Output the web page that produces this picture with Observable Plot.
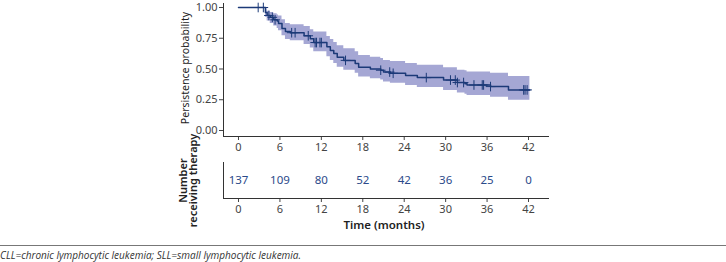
<!DOCTYPE html>
<html>
<head>
<meta charset="utf-8">
<script src="https://cdn.jsdelivr.net/npm/d3@7"></script>
<script src="https://cdn.jsdelivr.net/npm/@observablehq/plot@0.6"></script>
<style>
  html, body { margin: 0; padding: 0; background: #fff; }
  #wrap { position: relative; width: 726px; height: 262px; font-family: "Noto Sans", "Open Sans", sans-serif; }
  #km, #risk { position: absolute; left: 0; }
  #km { top: 0; }
  #risk { top: 150px; }
  #caption { position: absolute; left: 0; top: 245px; width: 726px; border-top: 1px solid #777; font-style: italic; font-size: 10px; line-height: 12px; color: #333; padding-top: 3px; font-family: "Open Sans", sans-serif; }
</style>
</head>
<body>
<div id="wrap">
  <div id="km"></div>
  <div id="risk"></div>
  <div id="caption">CLL=chronic lymphocytic leukemia; SLL=small lymphocytic leukemia.</div>
</div>
<script>
// Kaplan–Meier step data (months)
const eventTimes = [0, 3.9, 4.15, 4.6, 5.1, 5.6, 5.8, 6.3, 6.8, 7.5, 9.5, 10.4, 10.9, 12.8, 13.3, 13.8, 14.3, 15.25, 16.9, 17.4, 19.1, 20.6, 21.0, 22.0, 24.2, 25.9, 29.7, 31.7, 32.8, 33.1, 36.5, 39.1, 42.2];
const survival   = [1, 0.96, 0.935, 0.92, 0.90, 0.89, 0.87, 0.83, 0.805, 0.795, 0.77, 0.745, 0.715, 0.68, 0.65, 0.625, 0.595, 0.57, 0.545, 0.515, 0.50, 0.49, 0.475, 0.465, 0.447, 0.43, 0.41, 0.39, 0.38, 0.37, 0.357, 0.33, 0.33];
const lowerCI    = [1, 0.92, 0.89, 0.87, 0.85, 0.83, 0.81, 0.77, 0.74, 0.73, 0.70, 0.67, 0.64, 0.60, 0.57, 0.545, 0.515, 0.49, 0.465, 0.435, 0.42, 0.41, 0.395, 0.385, 0.365, 0.35, 0.325, 0.305, 0.295, 0.285, 0.27, 0.245, 0.245];
const upperCI    = [1, 0.99, 0.97, 0.96, 0.95, 0.94, 0.93, 0.90, 0.87, 0.86, 0.845, 0.82, 0.80, 0.765, 0.74, 0.715, 0.69, 0.665, 0.64, 0.61, 0.595, 0.585, 0.57, 0.56, 0.545, 0.53, 0.51, 0.49, 0.485, 0.475, 0.465, 0.44, 0.44];
const censorTimes = [2.85, 3.6, 4.4, 4.9, 5.3, 7.7, 8.2, 10.1, 11.1, 11.3, 11.8, 12.0, 15.5, 20.6, 21.9, 22.4, 27.2, 30.7, 31.4, 31.7, 32.6, 34.1, 35.3, 35.5, 36.5, 41.3, 41.5, 41.8];

// Number at risk table
const riskTimes = [0, 6, 12, 18, 24, 30, 36, 42];
const riskCounts = [137, 109, 80, 52, 42, 36, 25, 0];
const yTicks = [0, 0.25, 0.5, 0.75, 1];

const km = eventTimes.map((t, i) => ({t, s: survival[i], lo: lowerCI[i], hi: upperCI[i]}));
const survAt = t => { let s = 1; for (const d of km) if (d.t <= t) s = d.s; return s; };
const censors = censorTimes.map(t => ({t, s: survAt(t)}));
const risk = riskTimes.map((t, i) => ({t, n: riskCounts[i]}));

const lineColor = "#1c3a78";
const bandColor = "#a5a7d4";
const xDomain = [-2.172, 44.896];

const p1 = Plot.plot({
  width: 726, height: 160,
  marginTop: 3, marginBottom: 24, marginLeft: 223, marginRight: 178,
  style: {fontFamily: "'Noto Sans', 'Open Sans', sans-serif", fontSize: "11px", color: "#444", background: "transparent", overflow: "visible"},
  x: {domain: xDomain, ticks: riskTimes, tickSize: 4, tickPadding: 3, label: null},
  y: {domain: [-0.0488, 1.0325], ticks: yTicks, tickFormat: d3.format(".2f"), tickSize: 4, tickPadding: 2, label: null},
  marks: [
    Plot.areaY(km, {x: "t", y1: "lo", y2: "hi", curve: "step-after", fill: bandColor}),
    Plot.lineY(km, {x: "t", y: "s", curve: "step-after", stroke: lineColor, strokeWidth: 1.5}),
    Plot.dot(censors, {x: "t", y: "s", symbol: "plus", r: 3.2, stroke: lineColor, strokeWidth: 1}),
    Plot.frame({anchor: "left", stroke: "#333"}),
    Plot.frame({anchor: "bottom", stroke: "#333"}),
    Plot.text(["Persistence probability"], {frameAnchor: "left", dx: -38, dy: -2, rotate: -90, textAnchor: "middle", lineAnchor: "middle", fill: "#222", fontSize: 10.5})
  ]
});
document.getElementById("km").appendChild(p1);

const p2 = Plot.plot({
  width: 726, height: 80,
  marginTop: 12, marginBottom: 32, marginLeft: 223, marginRight: 178,
  style: {fontFamily: "'Noto Sans', 'Open Sans', sans-serif", fontSize: "11px", color: "#444", background: "transparent", overflow: "visible"},
  x: {domain: xDomain, ticks: riskTimes, tickSize: 4, tickPadding: 3, label: null},
  y: {domain: [0, 1], axis: null},
  marks: [
    Plot.text(risk, {x: "t", y: () => 0.5, text: "n", fill: "#2b4a8a", fontSize: 11.5}),
    Plot.frame({anchor: "left", stroke: "#333"}),
    Plot.frame({anchor: "bottom", stroke: "#333"}),
    Plot.text(["Number\nreceiving therapy"], {frameAnchor: "left", dx: -35, rotate: -90, textAnchor: "middle", lineAnchor: "middle", fill: "#222", fontSize: 11, fontWeight: 600, lineHeight: 0.95}),
    Plot.text(["Time (months)"], {frameAnchor: "bottom", dx: -2, dy: 27, textAnchor: "middle", lineAnchor: "middle", fill: "#222", fontSize: 11.5, fontWeight: 600})
  ]
});
document.getElementById("risk").appendChild(p2);
</script>
</body>
</html>
